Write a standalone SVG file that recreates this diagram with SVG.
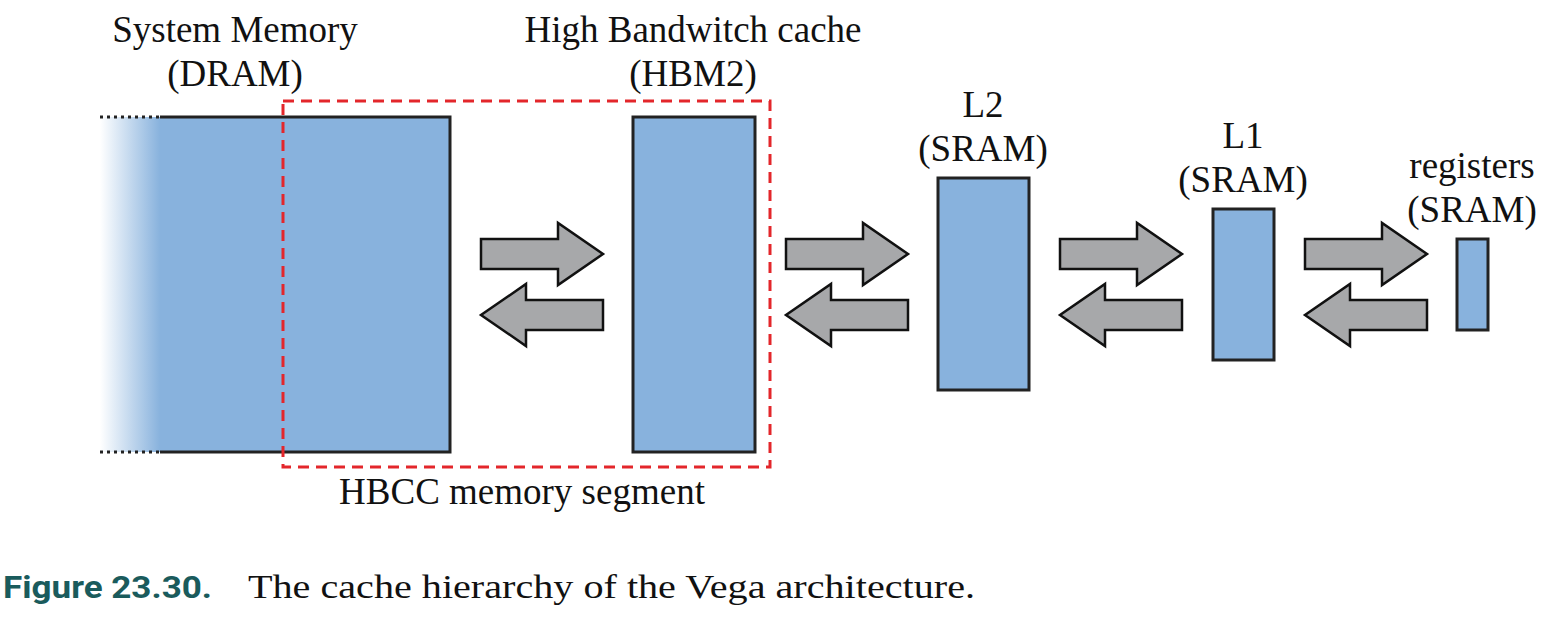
<svg xmlns="http://www.w3.org/2000/svg" width="1548" height="622" viewBox="0 0 1548 622">
<style>
.lbl{font-family:"Liberation Serif","Times New Roman",serif;font-size:37px;fill:#111;text-anchor:middle}
.box{fill:#88b2dd;stroke:#222;stroke-width:3}
.arr{fill:#a7a8aa;stroke:#111;stroke-width:2.5;stroke-linejoin:miter}
.dot{stroke:#222;stroke-width:3;stroke-dasharray:3 4;fill:none}
</style>
<defs>
<linearGradient id="fade" x1="100" y1="0" x2="160" y2="0" gradientUnits="userSpaceOnUse">
<stop offset="0" stop-color="#88b2dd" stop-opacity="0"/>
<stop offset="1" stop-color="#88b2dd"/>
</linearGradient>
</defs>
<rect width="1548" height="622" fill="#fff"/>
<g id="dram">
<rect x="100" y="117" width="61" height="335" fill="url(#fade)"/>
<rect x="160" y="117" width="290" height="335" fill="#88b2dd"/>
<path d="M160 117 H450 V452 H160" fill="none" stroke="#222" stroke-width="3"/>
<line class="dot" x1="100" y1="117" x2="160" y2="117"/>
<line class="dot" x1="100" y1="452" x2="160" y2="452"/>
<text class="lbl" x="235" y="42">System Memory</text>
<text class="lbl" x="235" y="86">(DRAM)</text>
</g>
<g id="hbm2">
<rect class="box" x="633" y="117" width="122" height="335"/>
<text class="lbl" x="693" y="42">High Bandwitch cache</text>
<text class="lbl" x="693" y="86">(HBM2)</text>
</g>
<g id="hbcc">
<rect x="283" y="101" width="487" height="366" fill="none" stroke="#e3262b" stroke-width="3" stroke-dasharray="11 7"/>
<text class="lbl" x="522" y="504">HBCC memory segment</text>
</g>
<g id="l2">
<rect class="box" x="938" y="178" width="91" height="212"/>
<text class="lbl" x="983" y="117">L2</text>
<text class="lbl" x="983" y="161">(SRAM)</text>
</g>
<g id="l1">
<rect class="box" x="1213" y="209" width="61" height="151"/>
<text class="lbl" x="1243" y="148">L1</text>
<text class="lbl" x="1243" y="192">(SRAM)</text>
</g>
<g id="registers">
<rect class="box" x="1457" y="239" width="31" height="91"/>
<text class="lbl" x="1472" y="178">registers</text>
<text class="lbl" x="1472" y="222">(SRAM)</text>
</g>
<g id="connectors">
<path class="arr" d="M481 239 H558 V223 L603 254 L558 285 V269 H481 Z"/>
<path class="arr" d="M603 300 H526 V284 L481 315 L526 346 V330 H603 Z"/>
<path class="arr" d="M786 239 H863 V223 L908 254 L863 285 V269 H786 Z"/>
<path class="arr" d="M908 300 H831 V284 L786 315 L831 346 V330 H908 Z"/>
<path class="arr" d="M1060 239 H1137 V223 L1182 254 L1137 285 V269 H1060 Z"/>
<path class="arr" d="M1182 300 H1105 V284 L1060 315 L1105 346 V330 H1182 Z"/>
<path class="arr" d="M1305 239 H1382 V223 L1427 254 L1382 285 V269 H1305 Z"/>
<path class="arr" d="M1427 300 H1350 V284 L1305 315 L1350 346 V330 H1427 Z"/>
</g>
<g id="caption">
<text x="3" y="598" font-family="Roboto,'Liberation Sans',sans-serif" font-weight="bold" font-size="31" fill="#1a5b5c" textLength="209" lengthAdjust="spacingAndGlyphs">Figure 23.30.</text>
<text x="248" y="598" font-family="'Liberation Serif','Times New Roman',serif" font-size="33" fill="#111" textLength="727" lengthAdjust="spacingAndGlyphs">The cache hierarchy of the Vega architecture.</text>
</g>
</svg>
